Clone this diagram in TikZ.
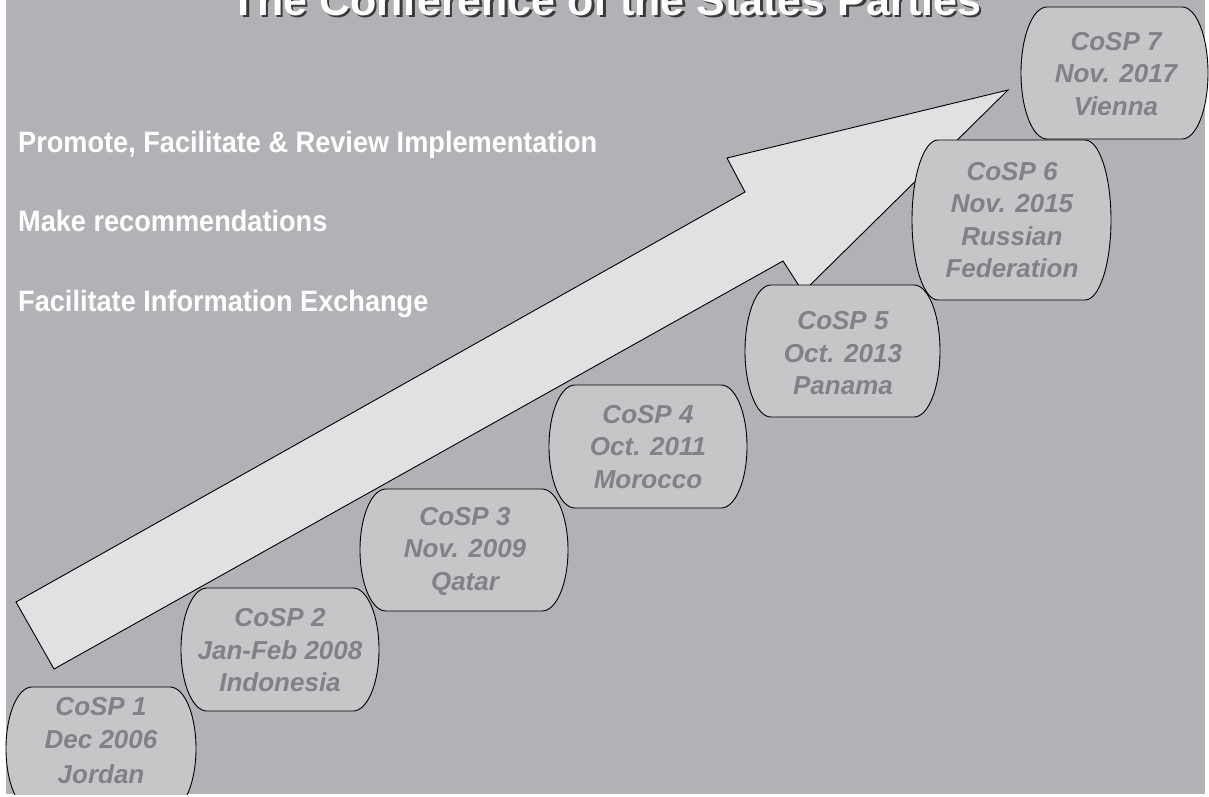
\documentclass[tikz,border=0pt]{standalone}
\usepackage{fontspec}
\setmainfont{Liberation Sans}
\usepackage{graphicx}
\definecolor{bg}{HTML}{B1B2B5}
\definecolor{boxfill}{HTML}{C5C6C8}
\definecolor{boxtext}{HTML}{808285}
\definecolor{arrowfill}{HTML}{E0E1E3}
\definecolor{shadowc}{HTML}{3A3A3C}
\tikzset{
  lozbox/.style={draw=black, line width=0.9pt, fill=boxfill},
  cosptext/.style={text=boxtext, font=\fontsize{26}{32.5}\selectfont\bfseries\itshape, align=center, inner sep=0pt},
  goaltext/.style={text=white, font=\fontsize{29.5}{30}\selectfont\bfseries, anchor=base west, inner sep=0pt},
  titletext/.style={font=\fontsize{43}{43}\selectfont\bfseries, anchor=base, inner sep=0pt},
  bigarrow/.style={draw=black, line width=0.9pt, fill=arrowfill, line join=miter},
}
\newcommand\lozshape[4]{%
  \draw[lozbox] ({#1+26},#2) -- ({#3-26},#2)
    .. controls ({#3-11.6},#2) and (#3,{(#2+#4)/2-0.27615*(#4-#2)}) .. (#3,{(#2+#4)/2})
    .. controls (#3,{(#2+#4)/2+0.27615*(#4-#2)}) and ({#3-11.6},#4) .. ({#3-26},#4)
    -- ({#1+26},#4)
    .. controls ({#1+11.6},#4) and (#1,{(#2+#4)/2+0.27615*(#4-#2)}) .. (#1,{(#2+#4)/2})
    .. controls (#1,{(#2+#4)/2-0.27615*(#4-#2)}) and ({#1+11.6},#2) .. cycle;}
\begin{document}
\begin{tikzpicture}[x=1pt,y=-1pt]
\useasboundingbox (0,0) rectangle (1209,796);
\fill[white] (0,0) rectangle (1209,796);
\fill[bg] (6,0) rectangle (1205,794);
\begin{scope}
\clip (0,0) rectangle (1209,794);
% big arrow
\coordinate (t1) at (16,602);
\coordinate (t2) at (54,669);
\coordinate (n1) at (745,192);
\coordinate (b1) at (727,158);
\coordinate (tip) at (1008,90);
\coordinate (b2) at (803,292);
\coordinate (n2) at (783,261);
\draw[bigarrow] (t1) -- (n1) -- (b1) -- (tip) -- (b2) -- (n2) -- (t2) -- cycle;
% boxes
\lozshape{6}{687}{196}{810}
\node[cosptext] (c1) at (101,740.5) {CoSP 1\\Dec 2006\\[2.5pt]Jordan};
\lozshape{181}{588}{379}{711}
\node[cosptext] (c2) at (280,650.5) {CoSP 2\\Jan-Feb 2008\\Indonesia};
\lozshape{360}{489}{568}{611}
\node[cosptext] (c3) at (465,551) {CoSP 3\\Nov. 2009\\Qatar};
\lozshape{549}{385}{747}{508}
\node[cosptext] (c4) at (648,447) {CoSP 4\\Oct. 2011\\Morocco};
\lozshape{745}{285}{940}{417}
\node[cosptext] (c5) at (843,353.5) {CoSP 5\\Oct. 2013\\Panama};
\lozshape{912}{140}{1111}{300}
\node[cosptext] (c6) at (1012,220) {CoSP 6\\Nov. 2015\\Russian\\Federation};
\lozshape{1021}{7}{1208}{139}
\node[cosptext] (c7) at (1116,74) {CoSP 7\\Nov. 2017\\Vienna};
% goals
\node[goaltext] (g1) at (18,152) {\scalebox{0.92}[1]{Promote, Facilitate \& Review Implementation}};
\node[goaltext] (g2) at (18,231) {\scalebox{0.92}[1]{Make recommendations}};
\node[goaltext] (g3) at (18,311) {\scalebox{0.92}[1]{Facilitate Information Exchange}};
% title
\node[titletext, text=shadowc] (titleshadow) at (608.5,17.5) {The Conference of the States Parties};
\node[titletext, text=white] (title) at (606,15) {The Conference of the States Parties};
\end{scope}
\end{tikzpicture}
\end{document}
